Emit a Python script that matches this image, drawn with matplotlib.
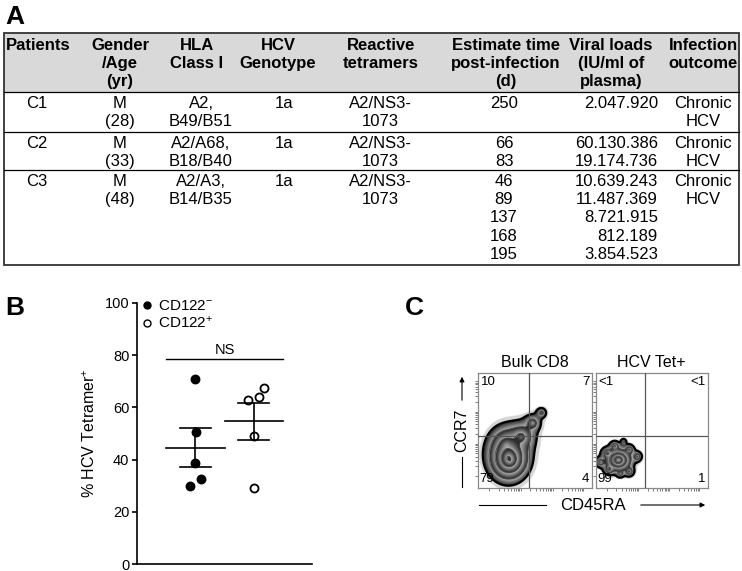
import matplotlib.pyplot as plt
import numpy as np

plt.rcParams['font.family'] = ['Liberation Sans', 'DejaVu Sans']
plt.rcParams['mathtext.fontset'] = 'custom'
plt.rcParams['mathtext.rm'] = 'Liberation Sans'
plt.rcParams['mathtext.it'] = 'Liberation Sans:italic'
plt.rcParams['mathtext.bf'] = 'Liberation Sans:bold'
plt.rcParams['mathtext.default'] = 'regular'

W, H = 742, 571

# ---- data: panel A table ----
headers = ['Patients', 'Gender\n/Age\n(yr)', 'HLA\nClass I', 'HCV\nGenotype', 'Reactive\ntetramers',
           'Estimate time\npost-infection\n(d)', 'Viral loads\n(IU/ml of\nplasma)', 'Infection\noutcome']
patients = ['C1', 'C2', 'C3']
gender_age = ['M\n(28)', 'M\n(33)', 'M\n(48)']
hla = ['A2,\nB49/B51', 'A2/A68,\nB18/B40', 'A2/A3,\nB14/B35']
genotype = ['1a', '1a', '1a']
tetramers = ['A2/NS3-\n1073', 'A2/NS3-\n1073', 'A2/NS3-\n1073']
days = [[250], [66, 83], [46, 89, 137, 168, 195]]
viral_loads = [[2047920], [60130386, 19174736], [10639243, 11487369, 8721915, 812189, 3854523]]
outcome = ['Chronic\nHCV', 'Chronic\nHCV', 'Chronic\nHCV']

# ---- data: panel B ----
cd122_neg = [70.8, 50.5, 38.8, 29.9, 32.4]
cd122_pos = [67.5, 63.0, 64.1, 49.2, 29.2]
jitter_neg = [0.0, 0.01, 0.0, -0.1, 0.1]
jitter_pos = [0.17, -0.1, 0.09, 0.0, 0.0]

# ---- data: panel C (quadrant %) ----
bulk_quads = ['10', '7', '79', '4']      # UL, UR, LL, LR
tet_quads = ['<1', '<1', '99', '1']
# density blobs (cx, cy, sx, sy, weight)
bulk_blobs = [(0.27, 0.26, 0.042, 0.048, 1.0), (0.28, 0.24, 0.03, 0.03, 0.6),
              (0.25, 0.37, 0.05, 0.055, 0.14),
              (0.38, 0.44, 0.04, 0.04, 0.15), (0.48, 0.56, 0.03, 0.03, 0.07),
              (0.56, 0.65, 0.02, 0.02, 0.05)]
tet_blobs = [(0.20, 0.24, 0.03, 0.025, 1.0), (0.10, 0.30, 0.015, 0.015, 0.15),
             (0.17, 0.36, 0.015, 0.015, 0.12), (0.30, 0.33, 0.015, 0.015, 0.12),
             (0.37, 0.27, 0.015, 0.015, 0.12), (0.30, 0.14, 0.015, 0.015, 0.12),
             (0.12, 0.16, 0.015, 0.015, 0.15), (0.04, 0.22, 0.015, 0.015, 0.1),
             (0.25, 0.40, 0.01, 0.01, 0.06), (0.22, 0.12, 0.012, 0.012, 0.08)]


def px(l, t, r, b):
    return [l / W, 1 - b / H, (r - l) / W, (b - t) / H]


fig = plt.figure(figsize=(W / 100, H / 100), dpi=100)

# overlay axes in pixel coords for table, labels and arrows
ov = fig.add_axes([0, 0, 1, 1])
ov.set_xlim(0, W)
ov.set_ylim(H, 0)
ov.axis('off')

fs = 12
# table frame
seps = [91.7, 131.7, 169.5]
ov.add_patch(plt.Rectangle((4, 33.3), 735, 91.7 - 33.3, facecolor='#d9d9d9', edgecolor='none'))
for y in seps:
    ov.plot([4, 739], [y, y], color='black', lw=0.9)
ov.add_patch(plt.Rectangle((4, 33.3), 735, 265 - 33.3, facecolor='none', edgecolor='#333333', lw=1.3))

head_x = [38, 120, 197, 278, 381, 506, 611, 703]
for x, h in zip(head_x, headers):
    for k, line in enumerate(h.split('\n')):
        ov.text(x, 50 + 18 * k, line, ha='center', va='baseline', fontsize=fs, fontweight='bold')

col_x = [37, 120, 201, 284, 380, 504, 658, 703]
col_ha = ['center', 'center', 'center', 'center', 'center', 'center', 'right', 'center']
for i in range(3):
    y0 = seps[i] + 16.5
    cells = [patients[i], gender_age[i], hla[i], genotype[i], tetramers[i],
             '\n'.join(str(d) for d in days[i]),
             '\n'.join(f'{v:,}'.replace(',', '.') for v in viral_loads[i]),
             outcome[i]]
    for x, ha, c in zip(col_x, col_ha, cells):
        for k, line in enumerate(c.split('\n')):
            ov.text(x, y0 + 18.2 * k, line, ha=ha, va='baseline', fontsize=fs)

# panel letters
for x, y, s in [(5, 23.5, 'A'), (5, 315, 'B'), (405, 315, 'C')]:
    ov.text(x, y, s, fontsize=19, fontweight='bold', ha='left', va='baseline')

# ---- panel B ----
axb = fig.add_axes(px(137, 303, 312, 564))
axb.patch.set_visible(False)
axb.set_xlim(0, 3)
axb.set_ylim(0, 100)
for sp in ['top', 'right']:
    axb.spines[sp].set_visible(False)
for sp in ['left', 'bottom']:
    axb.spines[sp].set_linewidth(1.2)
axb.set_xticks([])
axb.set_yticks(range(0, 101, 20))
axb.tick_params(axis='y', length=3.5, width=1.2, labelsize=10.5, pad=2)
axb.set_ylabel('% HCV Tetramer$^{+}$', fontsize=11.5, labelpad=5)

for g, (vals, jit, fc) in enumerate([(cd122_neg, jitter_neg, 'black'), (cd122_pos, jitter_pos, 'white')]):
    xc = g + 1
    axb.plot(xc + np.array(jit), vals, 'o', ms=5.8, mfc=fc, mec='black', mew=1.3, clip_on=False)
    m = np.mean(vals)
    sem = np.std(vals, ddof=1) / np.sqrt(len(vals))
    axb.plot([xc - 0.5, xc + 0.5], [m, m], color='black', lw=1.2)
    axb.plot([xc, xc], [m - sem, m + sem], color='black', lw=1.2)
    for e in (m - sem, m + sem):
        axb.plot([xc - 0.27, xc + 0.27], [e, e], color='black', lw=1.2)

axb.plot([0.5, 2.5], [78.5, 78.5], color='black', lw=1)
axb.text(1.5, 80.5, 'NS', ha='center', va='baseline', fontsize=10.5)

# legend
ov.plot(147, 305, 'o', ms=5, mfc='black', mec='black', mew=1)
ov.plot(147, 323, 'o', ms=5, mfc='white', mec='black', mew=1)
ov.text(158, 310, 'CD122$^{-}$', fontsize=11, va='baseline', ha='left')
ov.text(158, 328, 'CD122$^{+}$', fontsize=11, va='baseline', ha='left')

# ---- panel C ----
g = np.linspace(0, 1, 300)
X, Y = np.meshgrid(g, g)


def logdens(blobs):
    d = np.zeros_like(X)
    for cx, cy, sx, sy, w in blobs:
        r = np.sqrt(((X - cx) / sx) ** 2 + ((Y - cy) / sy) ** 2)
        d += w * np.exp(-r)
    return np.log(d)


def flow(ax, blobs, quads, vx, hy, title):
    L = logdens(blobs)
    L0, step = -5.0, 1.25
    frac = ((L - L0) / step) % 1
    gray = 0.12 + 0.58 * frac
    rgba = np.ones(L.shape + (4,))
    rgba[..., 0] = rgba[..., 1] = rgba[..., 2] = gray
    halo = (L < L0) & (L >= L0 - 0.8)
    rgba[..., 3] = np.where(L >= L0, 1.0, np.where(halo, 0.3, 0.0))
    rgba[halo, :3] = 0.45
    ax.imshow(rgba, extent=[0, 1, 0, 1], origin='lower', interpolation='bilinear', zorder=1)
    ax.contour(X, Y, L, levels=[L0], colors='black', linewidths=1.6, linestyles='solid', zorder=2)
    ax.contour(X, Y, L, levels=np.arange(L0 + step, L.max(), step), colors='#444444',
               linewidths=0.5, linestyles='solid', zorder=2)
    ax.axvline(vx, color='#555555', lw=0.9, zorder=3)
    ax.axhline(hy, color='#555555', lw=0.9, zorder=3)
    ax.set_xlim(0, 1)
    ax.set_ylim(0, 1)
    ax.set_aspect('auto')
    for sp in ax.spines.values():
        sp.set_color('#888888')
        sp.set_linewidth(0.9)
    ticks = [0.1 + (k + np.log10(m)) * 0.28 for k in range(3) for m in range(1, 10)]
    ticks = [t for t in ticks if t < 1]
    ax.set_xticks(ticks)
    ax.set_yticks(ticks)
    ax.set_xticklabels([])
    ax.set_yticklabels([])
    ax.tick_params(length=2, width=0.6, color='#666666', direction='out')
    ax.set_title(title, fontsize=11.5, pad=4)
    kw = dict(fontsize=9.5, transform=ax.transAxes, zorder=4)
    ax.text(0.03, 0.97, quads[0], ha='left', va='top', **kw)
    ax.text(0.98, 0.97, quads[1], ha='right', va='top', **kw)
    ax.text(0.02, 0.02, quads[2], ha='left', va='bottom', **kw)
    ax.text(0.98, 0.02, quads[3], ha='right', va='bottom', **kw)


axc1 = fig.add_axes(px(477.5, 372.5, 591.5, 487.5))
axc2 = fig.add_axes(px(595.5, 372.5, 707.5, 487.5))
flow(axc1, bulk_blobs, bulk_quads, 0.455, 0.448, 'Bulk CD8')
flow(axc2, tet_blobs, tet_quads, 0.445, 0.448, 'HCV Tet+')

# axis labels with arrows
ov.plot([462, 462], [457, 487], color='black', lw=0.8)
ov.annotate('', xy=(462, 374), xytext=(462, 403),
            arrowprops=dict(arrowstyle='-|>', lw=0.8, color='black', mutation_scale=7))
ov.text(462, 430, 'CCR7', rotation=90, ha='center', va='center', fontsize=11.5)
ov.plot([479, 546], [505, 505], color='black', lw=0.8)
ov.annotate('', xy=(708, 505), xytext=(638, 505),
            arrowprops=dict(arrowstyle='-|>', lw=0.8, color='black', mutation_scale=7))
ov.text(593, 506, 'CD45RA', ha='center', va='center', fontsize=12)

fig.savefig('out.png', dpi=100)
